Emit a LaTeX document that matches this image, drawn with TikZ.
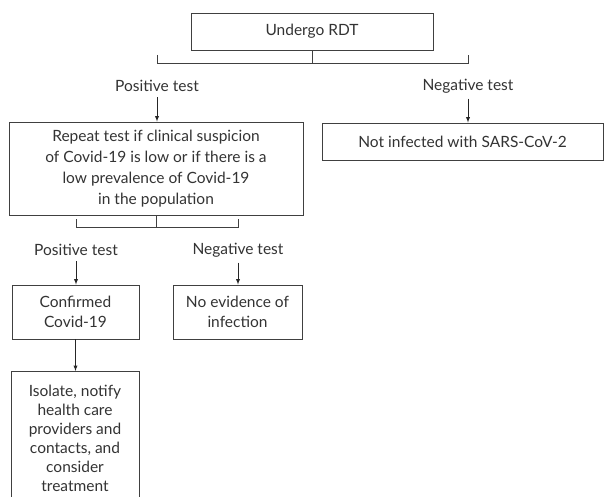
\documentclass[tikz,border=0pt]{standalone}
\usepackage{fontspec}
\setmainfont{Lato}
\usetikzlibrary{arrows}

\begin{document}
\begin{tikzpicture}[x=1pt,y=-1pt,line width=0.9pt,
                    every node/.style={text=black!80,font=\fontsize{15.5}{20}\selectfont},
                    box/.style={draw=black!75,align=center,inner sep=0pt},
                    lbl/.style={inner sep=1pt},
                    arr/.style={-latex,draw=black!85,shorten <=4pt}]
                      \clip(0,0)rectangle(604,497);
                      \fill[white](0,0)rectangle(604,497);
                      \node[box,minimum width=242,minimum height=37](rdt)at(312,31.5){Undergo RDT};
                      \coordinate(b1l)at(157,63);
                      \coordinate(b1r)at(468,63);
                      \draw[black!75](rdt.south)--(rdt.south|-b1l);
                      \draw[black!75]([yshift=8]b1l)--(b1l)--(b1r)--([yshift=8]b1r);
                      \node[lbl](pos1)at(157,86){Positive test};
                      \node[lbl](neg1)at(468,86){Negative test};
                      \node[box,minimum width=294,minimum height=93,
                            font=\fontsize{15.5}{21}\selectfont](rep)at(156,168.5){Repeat test if clinical suspicion\\of Covid-19 is low or if there is a\\low prevalence of Covid-19\\in the population};
                      \node[box,minimum width=281,minimum height=37](notinf)at(462.5,141.5){Not infected with SARS-CoV-2};
                      \draw[arr](pos1)--(rep.north-|pos1);
                      \draw[arr](neg1)--(notinf.north-|neg1);
                      \coordinate(b2l)at(76,227);
                      \coordinate(b2r)at(238,227);
                      \draw[black!75](rep.south)--(rep.south|-b2l);
                      \draw[black!75]([yshift=8]b2l)--(b2l)--(b2r)--([yshift=8]b2r);
                      \node[lbl](pos2)at(76,250){Positive test};
                      \node[lbl](neg2)at(238,250){Negative test};
                      \node[box,minimum width=127,minimum height=54](conf)at(75.5,312){Confirmed\\Covid-19};
                      \node[box,minimum width=129,minimum height=54](noev)at(237.5,312){No evidence of\\infection};
                      \draw[arr](pos2)--(conf.north-|pos2);
                      \draw[arr](neg2)--(noev.north-|neg2);
                      \node[box,minimum width=128,minimum height=134,anchor=north,
                            font=\fontsize{15.5}{19}\selectfont](iso)at(75,371){Isolate, notify\\health care\\providers and\\contacts, and\\consider\\treatment};
                      \draw[arr,shorten <=0pt](conf)--(iso.north-|conf);
                  \end{tikzpicture}
\end{document}
